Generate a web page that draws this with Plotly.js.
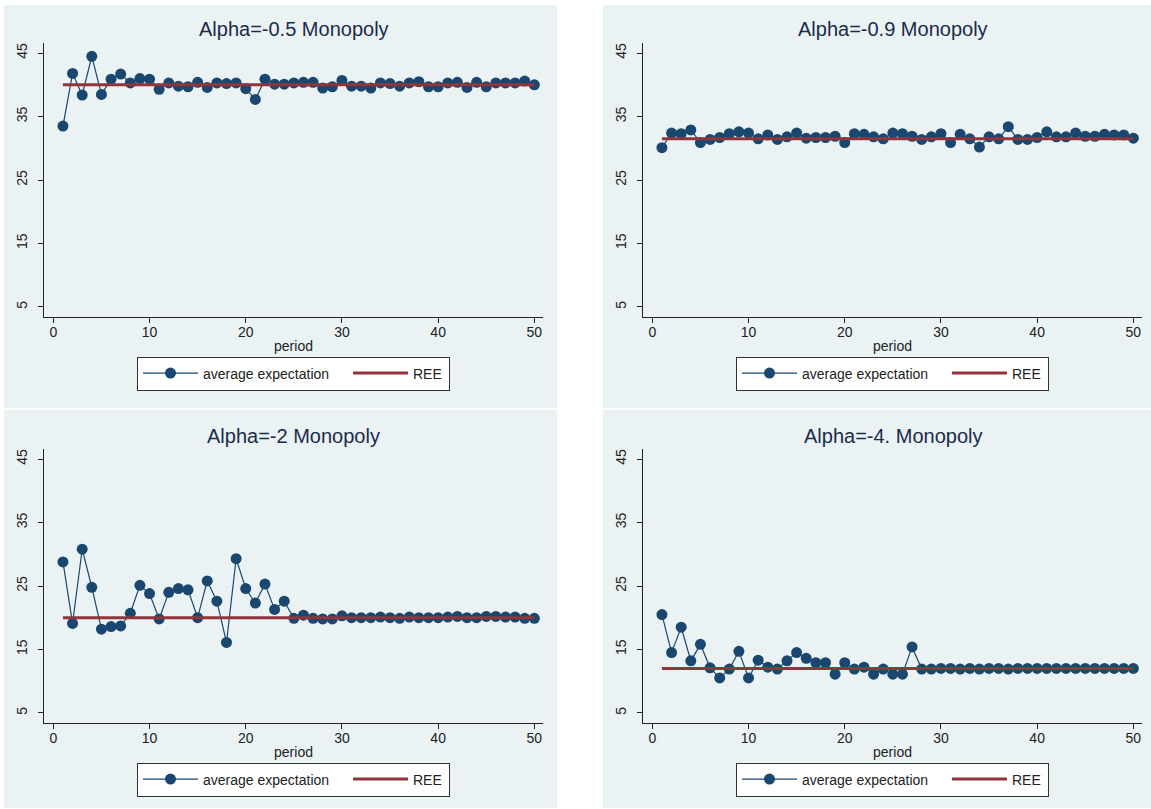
<!DOCTYPE html>
<html>
<head>
<meta charset="utf-8">
<script src="https://cdn.plot.ly/plotly-3.0.1.min.js"></script>
<style>
  html, body { margin: 0; padding: 0; background: #ffffff; }
  #chart { width: 1151px; height: 809px; }
</style>
</head>
<body>
<div id="chart"></div>
<script>
// Periods of the experiment
const periods = [1,2,3,4,5,6,7,8,9,10,11,12,13,14,15,16,17,18,19,20,
                 21,22,23,24,25,26,27,28,29,30,31,32,33,34,35,36,37,38,39,40,
                 41,42,43,44,45,46,47,48,49,50];

// Average expectation per period, one array per treatment
const expAlpha05 = [33.5,41.8,38.4,44.5,38.5,40.9,41.7,40.3,41.0,40.9,
                    39.3,40.3,39.8,39.7,40.4,39.6,40.3,40.2,40.3,39.4,
                    37.7,40.9,40.1,40.1,40.3,40.4,40.4,39.5,39.7,40.7,
                    39.8,39.8,39.5,40.3,40.2,39.8,40.3,40.5,39.7,39.7,
                    40.3,40.4,39.6,40.4,39.7,40.3,40.3,40.3,40.6,40.0];
const expAlpha09 = [30.1,32.4,32.3,32.9,30.9,31.4,31.7,32.3,32.6,32.4,
                    31.5,32.1,31.4,31.8,32.4,31.6,31.7,31.7,31.9,30.9,
                    32.3,32.2,31.8,31.5,32.4,32.3,31.9,31.4,31.8,32.3,
                    30.9,32.2,31.5,30.2,31.8,31.5,33.4,31.4,31.4,31.7,
                    32.6,31.8,31.8,32.4,31.9,31.9,32.2,32.1,32.1,31.6];
const expAlpha2  = [28.8,19.1,30.8,24.8,18.2,18.6,18.7,20.7,25.1,23.8,
                    19.8,24.0,24.6,24.4,20.0,25.8,22.6,16.1,29.3,24.6,
                    22.3,25.3,21.3,22.6,19.9,20.4,19.9,19.8,19.8,20.3,
                    20.0,20.0,20.0,20.1,20.0,19.9,20.1,20.0,20.0,20.0,
                    20.1,20.2,20.0,20.0,20.2,20.2,20.1,20.1,19.9,19.9];
const expAlpha4  = [20.5,14.5,18.5,13.2,15.8,12.1,10.5,11.9,14.7,10.5,
                    13.3,12.2,11.9,13.2,14.5,13.6,12.9,12.9,11.1,12.9,
                    11.9,12.2,11.1,11.9,11.1,11.1,15.4,11.9,11.9,12.0,
                    12.0,11.9,12.0,11.9,12.0,12.0,11.9,12.0,12.0,12.0,
                    12.0,12.0,12.0,12.0,12.0,12.0,12.0,12.0,12.0,12.0];

// Rational expectations equilibrium per treatment
const reeValues = [40, 31.5, 20, 12];

const panelTitles = ["Alpha=-0.5 Monopoly", "Alpha=-0.9 Monopoly",
                     "Alpha=-2 Monopoly", "Alpha=-4. Monopoly"];
const yTicks = [5, 15, 25, 35, 45];
const xTicks = [0, 10, 20, 30, 40, 50];
const seriesNames = ["average expectation", "REE"];

const expectations = [expAlpha05, expAlpha09, expAlpha2, expAlpha4];

// ---- page geometry (pixels) ----
const W = 1151, H = 809;
const navy = "#1a476f", maroon = "#90353b", panelBg = "#eaf2f3";
const FONT = "Liberation Sans, Arial, sans-serif";

// plot areas: [left, right, top, bottom]
const plotBoxes = [
  [44, 543, 43, 317],
  [643, 1142, 43, 317],
  [44, 543, 449, 723],
  [643, 1142, 449, 723]
];
// panel backgrounds: [left, right, top, bottom]
const panelBoxes = [
  [4, 557, 5, 408],
  [603, 1151, 5, 408],
  [4, 557, 410, 808],
  [603, 1151, 410, 808]
];

const px = v => v / W;
const py = v => 1 - v / H;

const traces = [];
const layout = {
  width: W, height: H,
  margin: {l: 0, r: 0, t: 0, b: 0},
  paper_bgcolor: "#ffffff",
  plot_bgcolor: "#ffffff",
  font: {family: FONT, size: 14, color: "#222"},
  showlegend: true,
  shapes: [],
  annotations: []
};

panelBoxes.forEach(b => {
  layout.shapes.push({
    type: "rect", xref: "paper", yref: "paper", layer: "below",
    x0: px(b[0]), x1: px(b[1]), y0: py(b[3]), y1: py(b[2]),
    fillcolor: panelBg, line: {width: 0}
  });
});

for (let i = 0; i < 4; i++) {
  const n = i === 0 ? "" : String(i + 1);
  const xa = "x" + n, ya = "y" + n;
  const legendId = "legend" + n;
  const box = plotBoxes[i];

  traces.push({
    type: "scatter", mode: "lines+markers",
    x: periods, y: expectations[i],
    xaxis: xa, yaxis: ya, legend: legendId,
    name: seriesNames[0], legendwidth: 140,
    line: {color: navy, width: 1.2},
    marker: {color: navy, size: 11, line: {width: 0}},
    hoverinfo: "x+y"
  });
  traces.push({
    type: "scatter", mode: "lines",
    x: [periods[0], periods[periods.length - 1]],
    y: [reeValues[i], reeValues[i]],
    xaxis: xa, yaxis: ya, legend: legendId,
    name: seriesNames[1], legendwidth: 31,
    line: {color: maroon, width: 3},
    hoverinfo: "y"
  });

  layout["xaxis" + n] = {
    domain: [px(box[0]), px(box[1])],
    anchor: ya,
    range: [-0.97, 50.9],
    tickvals: xTicks,
    ticks: "outside", ticklen: 5, tickwidth: 1, tickcolor: "#222",
    ticklabelstandoff: -3,
    showline: true, linecolor: "#222", linewidth: 1,
    showgrid: false, zeroline: false,
    tickfont: {size: 14, color: "#222"},
    title: {text: "period", font: {size: 14, color: "#222"}, standoff: 2}
  };
  layout["yaxis" + n] = {
    domain: [py(box[3]), py(box[2])],
    anchor: xa,
    range: [3.4, 46.6],
    tickvals: yTicks,
    tickangle: -90,
    ticks: "outside", ticklen: 5, tickwidth: 1, tickcolor: "#222",
    ticklabelstandoff: 5,
    showline: true, linecolor: "#222", linewidth: 1,
    showgrid: true, gridcolor: "#e9eff0", gridwidth: 1,
    zeroline: false,
    tickfont: {size: 14, color: "#222"}
  };

  layout[legendId] = {
    x: px((box[0] + box[1]) / 2), xanchor: "center",
    y: py(box[3] + 39.5), yanchor: "top",
    orientation: "h",
    bgcolor: "#ffffff", bordercolor: "#333", borderwidth: 1,
    font: {size: 14, color: "#222"},
    itemwidth: 55
  };

  layout.annotations.push({
    xref: "paper", yref: "paper",
    x: px((box[0] + box[1]) / 2), y: py(box[2] - 13.5),
    xanchor: "center", yanchor: "middle",
    text: panelTitles[i], showarrow: false,
    font: {size: 20, color: "#1c2b4a"}
  });
}

Plotly.newPlot("chart", traces, layout, {displayModeBar: false, staticPlot: true});
</script>
</body>
</html>
